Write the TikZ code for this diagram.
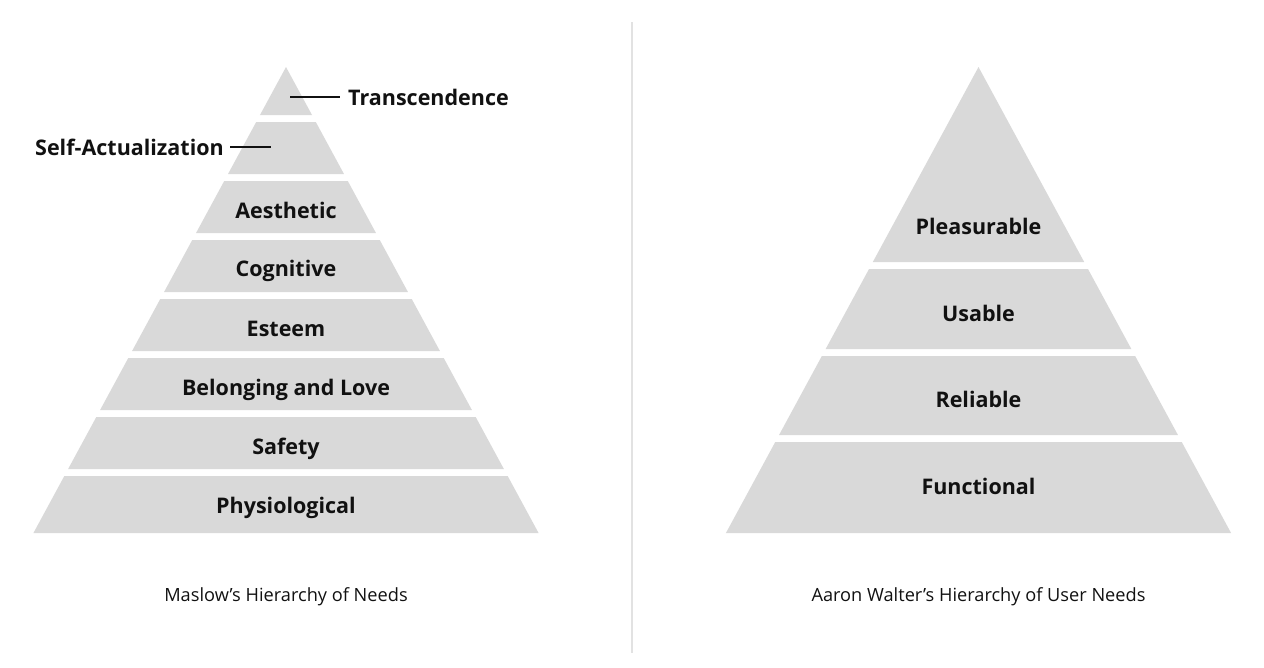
\documentclass[tikz,border=0pt]{standalone}
\usepackage{fontspec}
\setmainfont{Open Sans}
\usetikzlibrary{positioning}

\definecolor{bandgray}{HTML}{D9D9D9}
\definecolor{inkdark}{HTML}{111111}
\definecolor{rulegray}{HTML}{E2E2E2}

\tikzset{
    band/.style={fill=bandgray, draw=none},
    level/.style={text=inkdark, font=\fontsize{21.5}{25}\selectfont\bfseries, inner sep=0pt, anchor=base},
    caption/.style={text=inkdark, font=\fontsize{18.2}{22}\selectfont, inner sep=0pt, anchor=base},
    leader/.style={draw=inkdark, line width=1.3pt}
}

% one horizontal slice of a pyramid with its apex at (#1,67)
\newcommand{\pyrband}[3]{%
    \fill[band] ({#1-0.542*(#2-67)},#2) -- ({#1+0.542*(#2-67)},#2)
        -- ({#1+0.542*(#3-67)},#3) -- ({#1-0.542*(#3-67)},#3) -- cycle;
}

\begin{document}
\begin{tikzpicture}[x=1pt, y=-1pt]
    \useasboundingbox (0,0) rectangle (1264,667);

    % Maslow
    \foreach \t/\b in {67/115, 122/174, 181/233, 240/292, 299/351, 358/410, 417/469, 476/533}
        {\pyrband{286}{\t}{\b}}

    \node[level, anchor=base west] (trans) at (348,105) {Transcendence};
    \node[level, anchor=base east] (selfact) at (224,155) {Self-Actualization};
    \node[level] (aesth) at (286,218) {Aesthetic};
    \node[level] (cogn) at (286,276) {Cognitive};
    \node[level] (esteem) at (286,336) {Esteem};
    \node[level] (belong) at (286,395) {Belonging and Love};
    \node[level] (safety) at (286,454) {Safety};
    \node[level] (physio) at (286,513) {Physiological};

    \coordinate (transtip) at (290,97);
    \coordinate (transend) at (340,97);
    \coordinate (selfend) at (230,147);
    \coordinate (selftip) at (271,147);
    \draw[leader] (transtip) -- (transend);
    \draw[leader] (selfend) -- (selftip);

    \node[caption] (maslow) at (286,601) {Maslow’s Hierarchy of Needs};

    % divider
    \coordinate (divtop) at (632,22);
    \coordinate (divbot) at (632,653);
    \draw[rulegray, line width=1.5pt] (divtop) -- (divbot);

    % Walter
    \foreach \t/\b in {67/262, 269/349, 356/435, 442/533}
        {\pyrband{978.5}{\t}{\b}}

    \node[level] (pleas) at (978.5,234) {Pleasurable};
    \node[level] (usable) at (978.5,321) {Usable};
    \node[level] (reliab) at (978.5,407) {Reliable};
    \node[level] (funct) at (978.5,494) {Functional};

    \node[caption] (walter) at (978.5,601) {Aaron Walter’s Hierarchy of User Needs};
\end{tikzpicture}
\end{document}
